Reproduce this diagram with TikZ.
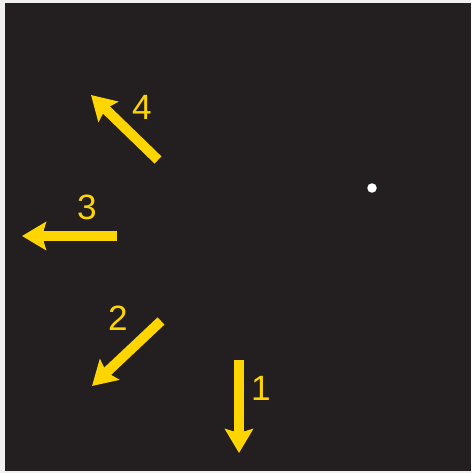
\documentclass[tikz,border=0pt]{standalone}
\usepackage{fontspec}
\setmainfont{Liberation Sans}
\usetikzlibrary{arrows.meta}
\definecolor{bgdark}{HTML}{231F20}
\definecolor{ylw}{HTML}{FFD500}
\tikzset{
  yarrow/.style={draw=ylw, line width=0.2cm, -{Stealth[length=0.48cm,width=0.56cm,inset=0.08cm]}},
  num/.style={text=ylw, font=\fontsize{20}{20}\selectfont, inner sep=0pt}
}
\begin{document}
\begin{tikzpicture}[x=0.02cm,y=-0.02cm]
			\fill[gray!12] (0,0) rectangle (471,473);
			\fill[bgdark] (5,3) rectangle (471,471);
			\draw (239,360) coordinate (T1) (239,453) coordinate (H1);
			\draw (161,321) coordinate (T2) (92,386) coordinate (H2);
			\draw (117,236) coordinate (T3) (22,236) coordinate (H3);
			\draw (158,160) coordinate (T4) (91,95) coordinate (H4);
			\draw[yarrow] (T1) to (H1);
			\draw[yarrow] (T2) to (H2);
			\draw[yarrow] (T3) to (H3);
			\draw[yarrow] (T4) to (H4);
			\node[num] (L1) at (261,388) {1};
			\node[num] (L2) at (118,318) {2};
			\node[num] (L3) at (87,207) {3};
			\node[num] (L4) at (142,107) {4};
			\node[circle, fill=white, inner sep=0pt, minimum size=0.19cm] (S) at (372,188) {};
		\end{tikzpicture}
\end{document}
